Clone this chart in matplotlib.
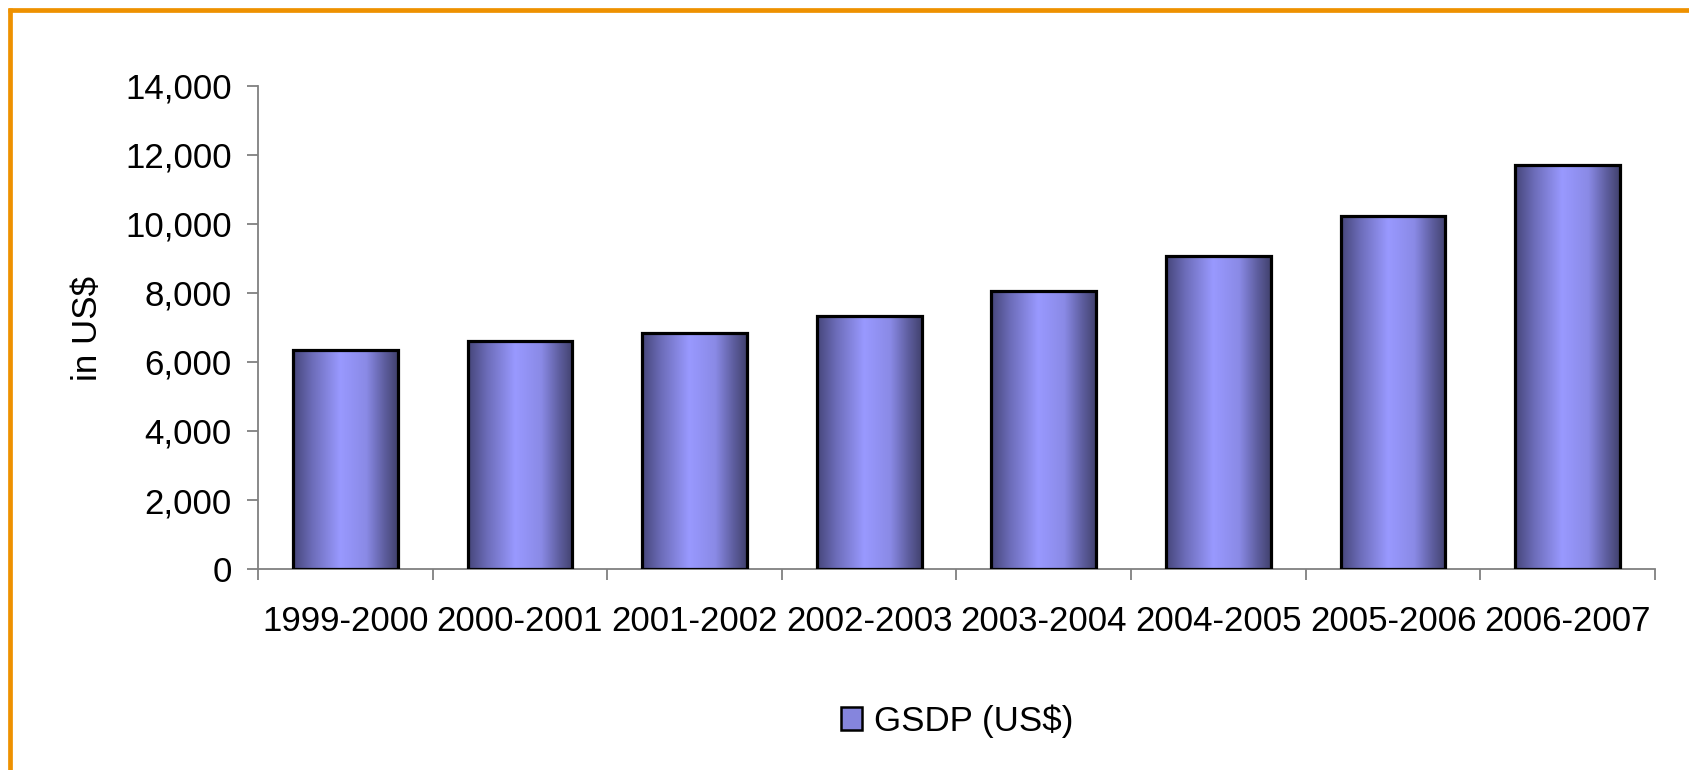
import numpy as np
import matplotlib
matplotlib.use("Agg")
import matplotlib.pyplot as plt
from matplotlib.colors import LinearSegmentedColormap
from matplotlib.lines import Line2D
from matplotlib.patches import Rectangle
from matplotlib.ticker import FuncFormatter

categories = ["1999-2000", "2000-2001", "2001-2002", "2002-2003",
              "2003-2004", "2004-2005", "2005-2006", "2006-2007"]
gsdp = [6350, 6600, 6850, 7340, 8070, 9070, 10220, 11710]
series_name = "GSDP (US$)"
y_label = "in US$"
y_ticks = [0, 2000, 4000, 6000, 8000, 10000, 12000, 14000]

plt.rcParams['font.family'] = ['Liberation Sans', 'DejaVu Sans']
FS = 25.1

W, H = 1690, 770
fig = plt.figure(figsize=(W / 100, H / 100), dpi=100)
fig.patch.set_facecolor('white')

ax = fig.add_axes([258 / W, 1 - 569 / H, (1655 - 258) / W, (569 - 86) / H])

cmap = LinearSegmentedColormap.from_list(
    "barfill",
    [(0.0, "#46467a"), (0.18, "#6c6cb8"), (0.45, "#9999ff"),
     (0.7, "#8a8ae6"), (0.88, "#5c5c9c"), (1.0, "#42426e")])
grad = np.linspace(0, 1, 256).reshape(1, -1)

bw = 0.6
x = np.arange(len(categories))
for xi, v in zip(x, gsdp):
    ax.imshow(grad, cmap=cmap, aspect='auto', interpolation='bilinear',
              extent=[xi - bw / 2, xi + bw / 2, 0, v], zorder=2)
ax.bar(x, gsdp, width=bw, facecolor='none', edgecolor='black',
       linewidth=2.3, zorder=3)

ax.set_xlim(-0.5, len(categories) - 0.5)
ax.set_ylim(0, 14000)

for s in ['top', 'right']:
    ax.spines[s].set_visible(False)
for s in ['left', 'bottom']:
    ax.spines[s].set_color('#808080')
    ax.spines[s].set_linewidth(1.3)

ax.set_yticks(y_ticks)
ax.yaxis.set_major_formatter(FuncFormatter(lambda v, p: f"{int(v):,}"))
ax.tick_params(axis='y', direction='out', length=8, width=1.3,
               color='#808080', labelsize=FS, pad=11)
ax.set_xticks(x)
ax.set_xticklabels(categories)
ax.tick_params(axis='x', which='major', length=0, labelsize=FS, pad=26)
ax.set_xticks(np.arange(-0.5, len(categories), 1.0), minor=True)
ax.tick_params(axis='x', which='minor', direction='out', length=8,
               width=1.3, color='#808080')

fig.text(88 / W, 1 - 328 / H, y_label, rotation=90, fontsize=FS,
         ha='center', va='center')

handle = Rectangle((0, 0), 1, 1, facecolor='#8585dd', edgecolor='black',
                   linewidth=1.8)
fig.legend([handle], [series_name], loc='center',
           bbox_to_anchor=(957 / W, 1 - 721 / H), frameon=False,
           fontsize=FS, handlelength=0.6, handleheight=0.62,
           handletextpad=0.35, borderpad=0.1)

orange = '#ee9100'
fig.add_artist(Line2D([8 / W, 1.0], [1 - 9.5 / H, 1 - 9.5 / H],
                      transform=fig.transFigure, color=orange, linewidth=3.4,
                      solid_capstyle='butt'))
fig.add_artist(Line2D([10.5 / W, 10.5 / W], [0.0, 1 - 7.5 / H],
                      transform=fig.transFigure, color=orange, linewidth=3.4,
                      solid_capstyle='butt'))

fig.savefig("out.png", dpi=100, facecolor='white')
